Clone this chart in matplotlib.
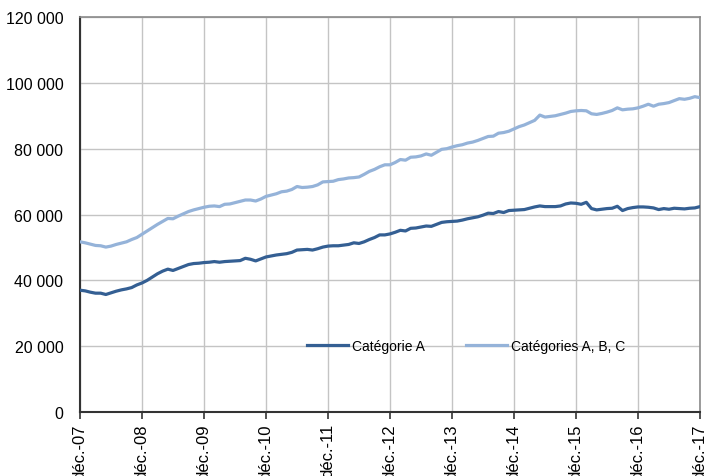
import numpy as np
from matplotlib import pyplot as plt
from matplotlib.ticker import FuncFormatter

plt.rcParams['font.family'] = ['Liberation Sans', 'DejaVu Sans']

# monthly values, déc. 2007 -> déc. 2017
cat_a = [
    37000, 36800, 36400, 36100, 36100, 35700, 36200, 36700, 37100, 37400, 37800, 38600,
    39200, 40000, 41000, 42000, 42800, 43400, 43000, 43600, 44200, 44800, 45100, 45200,
    45400, 45500, 45700, 45500, 45700, 45800, 45900, 46000, 46700, 46400, 45900, 46500,
    47100, 47400, 47700, 47900, 48100, 48500, 49200, 49300, 49400, 49200, 49600, 50100,
    50400, 50500, 50500, 50700, 50900, 51400, 51200, 51700, 52400, 53000, 53800, 53800,
    54100, 54600, 55200, 55000, 55800, 55900, 56200, 56500, 56400, 57000, 57600, 57800,
    57900, 58000, 58300, 58700, 59000, 59300, 59800, 60400, 60300, 60900, 60600, 61200,
    61300, 61400, 61500, 61900, 62300, 62600, 62400, 62400, 62400, 62600, 63200, 63500,
    63400, 63100, 63700, 61800, 61400, 61600, 61800, 61900, 62500, 61200, 61800, 62100,
    62300, 62300, 62200, 62000, 61500, 61800, 61600, 61900, 61800, 61700, 61900, 62000,
    62400,
]
cat_abc = [
    51700, 51400, 51000, 50600, 50500, 50100, 50400, 50900, 51300, 51700, 52400, 53000,
    54000, 55000, 56000, 57000, 57900, 58800, 58700, 59500, 60200, 60900, 61400, 61800,
    62200, 62500, 62600, 62400, 63100, 63200, 63600, 64000, 64400, 64400, 64100, 64700,
    65500, 65900, 66300, 66900, 67100, 67600, 68500, 68200, 68300, 68500, 69000, 69900,
    70000, 70100, 70600, 70800, 71100, 71200, 71400, 72200, 73100, 73700, 74500, 75100,
    75100, 75800, 76700, 76500, 77400, 77500, 77800, 78400, 78000, 78900, 79800, 80000,
    80500, 80900, 81200, 81700, 82000, 82500, 83100, 83700, 83800, 84700, 84900, 85300,
    86000, 86700, 87200, 87900, 88600, 90200, 89600, 89800, 90000, 90400, 90800, 91300,
    91500, 91600, 91500, 90600, 90400, 90700, 91100, 91600, 92400, 91800, 92000, 92100,
    92400, 92900, 93500, 92900, 93500, 93700, 94000, 94600, 95200, 95000, 95300, 95800,
    95500,
]
tick_labels = ['déc.-07', 'déc.-08', 'déc.-09', 'déc.-10', 'déc.-11', 'déc.-12',
               'déc.-13', 'déc.-14', 'déc.-15', 'déc.-16', 'déc.-17']
series_names = ['Catégorie A', 'Catégories A, B, C']

months = np.arange(len(cat_a))

fig = plt.figure(figsize=(7.04, 4.77), dpi=100)
ax = fig.add_axes([80/704, 64/477, 620/704, 395/477])

ax.plot(months, cat_a, color='#345f93', lw=2.3, label=series_names[0], zorder=3)
ax.plot(months, cat_abc, color='#95b3d9', lw=2.3, label=series_names[1], zorder=3)

ax.set_xlim(0, 120)
ax.set_ylim(0, 120000)
ax.set_xticks(np.arange(0, 121, 12))
ax.set_xticklabels(tick_labels, rotation=90, fontsize=12)
ax.set_yticks(np.arange(0, 120001, 20000))
ax.yaxis.set_major_formatter(FuncFormatter(lambda v, p: f'{int(v):,}'.replace(',', ' ')))
ax.tick_params(axis='y', length=0, labelsize=11.5, pad=12)
ax.tick_params(axis='x', length=5, width=1.2, color='#333333', pad=3)

ax.grid(True, color='#c4c4c4', lw=1)
ax.set_axisbelow(True)
for side in ['left', 'bottom']:
    ax.spines[side].set_color('#333333')
    ax.spines[side].set_linewidth(1.5)
for side in ['top', 'right']:
    ax.spines[side].set_color('#8a8a8a')
    ax.spines[side].set_linewidth(1.2)

ax.legend(loc='center', bbox_to_anchor=(0.623, 0.167), ncol=2, frameon=False,
          fontsize=10, handlelength=2.9, columnspacing=3.0, handletextpad=0.3)

fig.savefig('out.png', dpi=100)
